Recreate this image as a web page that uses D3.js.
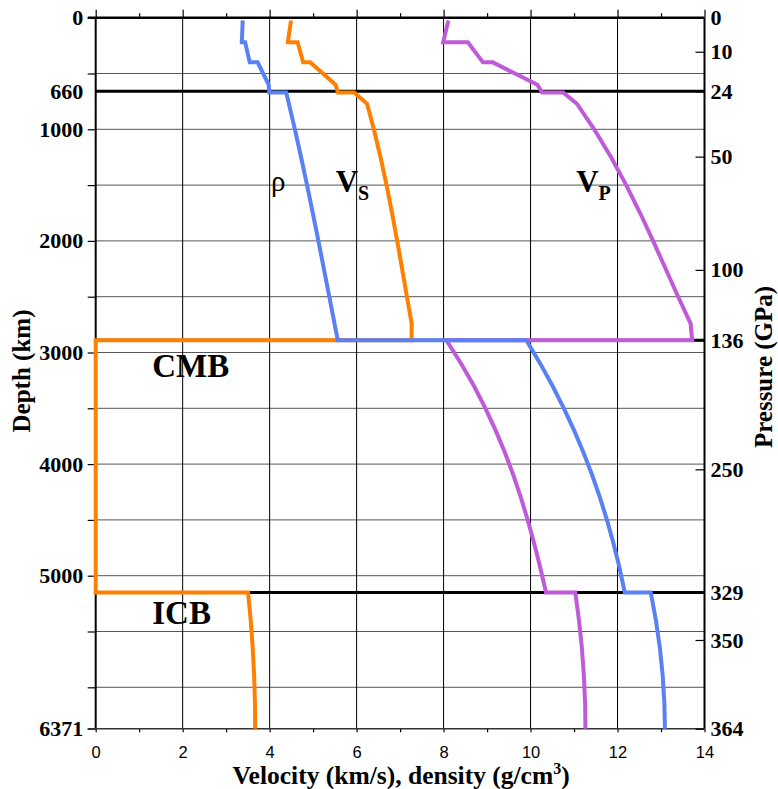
<!DOCTYPE html>
<html>
<head>
<meta charset="utf-8">
<script src="https://cdn.jsdelivr.net/npm/d3@7"></script>
<style>
body { margin: 0; background: #fff; }
svg text { font-family: "Liberation Serif", "Times New Roman", serif; font-weight: bold; fill: #000; }
</style>
</head>
<body>
<div class="chart-container"></div>
<script>
// depth samples (km), discontinuities are listed twice
var depthKm = [24.4, 220, 220, 400, 400, 600, 670, 670, 771, 1000, 1250, 1500, 1750, 2000, 2250, 2500, 2741, 2816, 2891,
               2891, 3100, 3300, 3500, 3700, 3900, 4100, 4300, 4500, 4700, 4900, 5150,
               5150, 5400, 5650, 5900, 6150, 6371];
var rho = [3.381, 3.360, 3.436, 3.543, 3.724, 3.976, 3.992, 4.381, 4.443, 4.580, 4.723, 4.860, 4.992, 5.121, 5.247, 5.372, 5.492, 5.529, 5.567,
           9.903, 10.224, 10.507, 10.766, 11.004, 11.221, 11.418, 11.596, 11.756, 11.900, 12.028, 12.167,
           12.764, 12.883, 12.975, 13.040, 13.078, 13.089];
var vp = [8.111, 7.990, 8.559, 8.905, 9.134, 10.158, 10.266, 10.751, 11.066, 11.464, 11.852, 12.200, 12.519, 12.818, 13.106, 13.394, 13.681, 13.698, 13.717,
          8.065, 8.405, 8.699, 8.963, 9.200, 9.414, 9.605, 9.778, 9.934, 10.076, 10.206, 10.356,
          11.029, 11.114, 11.181, 11.227, 11.255, 11.262];
var vs = [4.491, 4.419, 4.644, 4.770, 4.933, 5.516, 5.570, 5.945, 6.240, 6.397, 6.550, 6.689, 6.815, 6.933, 7.046, 7.157, 7.266, 7.265, 7.265,
          0, 0, 0, 0, 0, 0, 0, 0, 0, 0, 0, 0,
          3.504, 3.565, 3.611, 3.644, 3.663, 3.668];

var xTicks = [0, 1, 2, 3, 4, 5, 6, 7, 8, 9, 10, 11, 12, 13, 14];
var depthTicks = [0, 500, 660, 1000, 1500, 2000, 2500, 3000, 3500, 4000, 4500, 5000, 5500, 6000, 6371];
var depthLabels = [0, 660, 1000, 2000, 3000, 4000, 5000, 6371];
var gridDepths = [500, 1000, 1500, 2000, 2500, 3000, 3500, 4000, 4500, 5000, 5500, 6000];
var boundaryDepths = [660, 2891, 5150];
var pressureGPa = [0, 10, 24, 50, 100, 136, 250, 329, 350, 364];
var pressureDepth = [0, 305, 660, 1245, 2260, 2891, 4047, 5150, 5576, 6371];

var colVs = '#ff8000', colVp = '#bf5bd9', colRho = '#5a80f5';

var W = 778, H = 789;
var margin = {top: 17.7, right: 73.5, bottom: 60.3, left: 95.7};
var width = W - margin.left - margin.right,
    height = H - margin.top - margin.bottom;

var svg = d3.select('.chart-container').append('svg')
    .attr('width', W)
    .attr('height', H);

var g = svg.append('g')
    .attr('transform', 'translate(' + margin.left + ',' + margin.top + ')');

var x = d3.scaleLinear().domain([0, 14]).range([0, width]);
var y = d3.scaleLinear().domain([0, 6371]).range([0, height]);

// horizontal grid
g.selectAll('.hgrid')
    .data(gridDepths)
    .enter().append('line')
    .attr('class', 'hgrid')
    .attr('x1', x(0)).attr('x2', x(14))
    .attr('y1', y).attr('y2', y)
    .attr('stroke', '#555')
    .attr('stroke-width', 1);

// vertical grid at even velocities
g.selectAll('.vgrid')
    .data(xTicks.filter(function(d) { return d % 2 === 0; }))
    .enter().append('line')
    .attr('class', 'vgrid')
    .attr('x1', x).attr('x2', x)
    .attr('y1', y(0)).attr('y2', y(6371))
    .attr('stroke', '#000')
    .attr('stroke-width', function(d) { return (d === 0 || d === 14) ? 2 : 1; });

// top axis (ticks only)
var topAxis = g.append('g').call(d3.axisTop(x).tickValues(xTicks).tickSize(4.5).tickFormat(''));
topAxis.select('.domain').remove();
topAxis.selectAll('.tick text').remove();
topAxis.selectAll('.tick line')
    .attr('stroke-width', 1.2)
    .attr('y2', function(d) { return d % 2 === 0 ? -8 : -4.5; });

// bottom axis
var bottomAxis = g.append('g')
    .attr('transform', 'translate(0,' + height + ')')
    .call(d3.axisBottom(x).tickValues(xTicks).tickSize(3.5).tickPadding(14)
        .tickFormat(function(d) { return d % 2 === 0 ? d : ''; }));
bottomAxis.select('.domain').remove();
bottomAxis.selectAll('.tick line').attr('stroke-width', 1.2);
bottomAxis.selectAll('.tick text')
    .filter(function(d) { return d % 2 !== 0; }).remove();
bottomAxis.selectAll('.tick text')
    .style('font-family', '"Liberation Sans", Arial, sans-serif')
    .style('font-weight', 'normal')
    .style('font-size', '16.5px');

// left depth axis
var leftAxis = g.append('g')
    .call(d3.axisLeft(y).tickValues(depthTicks).tickSize(8).tickPadding(4.5)
        .tickFormat(function(d) { return depthLabels.indexOf(d) >= 0 ? d : ''; }));
leftAxis.select('.domain').remove();
leftAxis.selectAll('.tick line')
    .attr('stroke-width', 1.2)
    .attr('x2', function(d) { return d === 660 ? 0 : -8; });
leftAxis.selectAll('.tick text')
    .filter(function(d) { return depthLabels.indexOf(d) < 0; }).remove();
leftAxis.selectAll('.tick text')
    .attr('x', -12.5)
    .style('font-size', '22px');

// surface and centre lines
g.append('line')
    .attr('x1', -8).attr('x2', x(14))
    .attr('y1', y(0)).attr('y2', y(0))
    .attr('stroke', '#000').attr('stroke-width', 2.5);
g.append('line')
    .attr('x1', -8).attr('x2', x(14))
    .attr('y1', y(6371)).attr('y2', y(6371))
    .attr('stroke', '#333').attr('stroke-width', 1.5);

// discontinuities
g.selectAll('.boundary')
    .data(boundaryDepths)
    .enter().append('line')
    .attr('class', 'boundary')
    .attr('x1', x(0)).attr('x2', x(14))
    .attr('y1', y).attr('y2', y)
    .attr('stroke', '#000')
    .attr('stroke-width', 3);

// right pressure axis
var rightAxis = g.append('g')
    .attr('transform', 'translate(' + width + ',0)')
    .call(d3.axisRight(y).tickValues(pressureDepth).tickSizeInner(-9).tickSizeOuter(0).tickPadding(6)
        .tickFormat(function(d) { return pressureGPa[pressureDepth.indexOf(d)]; }));
rightAxis.select('.domain').remove();
rightAxis.selectAll('.tick line').attr('stroke-width', 1.2);
rightAxis.selectAll('.tick text').style('font-size', '22px');

svg.selectAll('.tick text').style('fill', '#000');

// profiles
var profile = function(vals) {
    return depthKm.map(function(d, i) { return {depth: d, v: vals[i]}; });
};
var line = d3.line()
    .x(function(d) { return x(d.v); })
    .y(function(d) { return y(d.depth); });

[[vs, colVs], [vp, colVp], [rho, colRho]].forEach(function(s) {
    g.append('path')
        .datum(profile(s[0]))
        .attr('d', line)
        .attr('fill', 'none')
        .attr('stroke', s[1])
        .attr('stroke-width', 4)
        .attr('stroke-linejoin', 'miter');
});

// curve labels
g.append('text')
    .attr('x', x(4.03)).attr('y', y(1550))
    .style('font-weight', 'normal')
    .style('font-size', '29px')
    .text('\u03c1');

var vsLab = g.append('text').attr('x', x(5.52)).attr('y', y(1565)).style('font-size', '31px');
vsLab.append('tspan').text('V');
vsLab.append('tspan').attr('dy', 8).style('font-size', '20px').text('S');

var vpLab = g.append('text').attr('x', x(11.05)).attr('y', y(1565)).style('font-size', '31px');
vpLab.append('tspan').text('V');
vpLab.append('tspan').attr('dy', 8).style('font-size', '20px').text('P');

g.append('text')
    .attr('x', x(1.3)).attr('y', y(3222))
    .style('font-size', '33px')
    .text('CMB');
g.append('text')
    .attr('x', x(1.3)).attr('y', y(5435))
    .style('font-size', '33px')
    .text('ICB');

// axis titles
var xt = svg.append('text')
    .attr('x', margin.left + width / 2 + 1)
    .attr('y', 784)
    .attr('text-anchor', 'middle')
    .style('font-size', '25.5px');
xt.append('tspan').text('Velocity (km/s), density (g/cm');
xt.append('tspan').attr('dy', -10).style('font-size', '16px').text('3');
xt.append('tspan').attr('dy', 10).text(')');

svg.append('text')
    .attr('transform', 'translate(30,371) rotate(-90)')
    .attr('text-anchor', 'middle')
    .style('font-size', '25px')
    .text('Depth (km)');

svg.append('text')
    .attr('transform', 'translate(772,367) rotate(-90)')
    .attr('text-anchor', 'middle')
    .style('font-size', '25px')
    .text('Pressure (GPa)');
</script>
</body>
</html>
